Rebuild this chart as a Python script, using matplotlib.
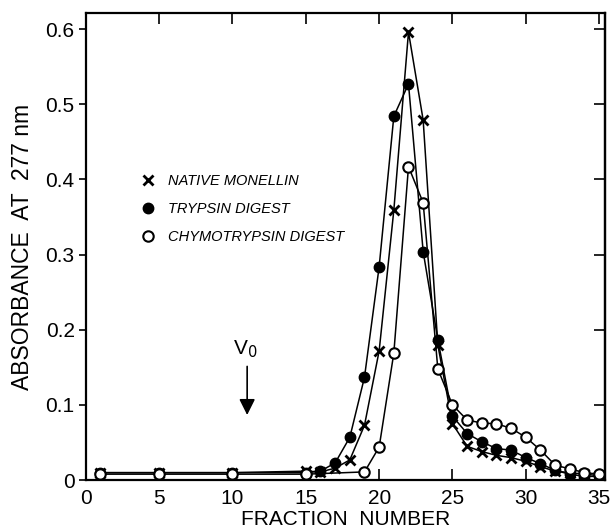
import matplotlib.pyplot as plt

# fraction numbers and absorbance at 277 nm
native_fraction = [1, 5, 10, 15, 16, 17, 18, 19, 20, 21, 22, 23, 24, 25,
                   26, 27, 28, 29, 30, 31, 32, 33, 34, 35]
native_abs = [0.010, 0.010, 0.010, 0.012, 0.011, 0.016, 0.027, 0.073, 0.172,
              0.359, 0.596, 0.479, 0.180, 0.075, 0.045, 0.038, 0.033, 0.030,
              0.025, 0.018, 0.012, 0.010, 0.008, 0.006]

trypsin_fraction = [1, 5, 10, 15, 16, 17, 18, 19, 20, 21, 22, 23, 24, 25,
                    26, 27, 28, 29, 30, 31, 32, 33, 34, 35]
trypsin_abs = [0.010, 0.010, 0.010, 0.010, 0.012, 0.023, 0.057, 0.137, 0.284,
               0.484, 0.527, 0.304, 0.187, 0.085, 0.062, 0.051, 0.042, 0.040,
               0.030, 0.022, 0.013, 0.008, 0.005, 0.005]

chymo_fraction = [1, 5, 10, 15, 19, 20, 21, 22, 23, 24, 25, 26, 27, 28,
                  29, 30, 31, 32, 33, 34, 35]
chymo_abs = [0.008, 0.008, 0.008, 0.008, 0.011, 0.044, 0.169, 0.417, 0.369,
             0.148, 0.100, 0.080, 0.076, 0.075, 0.069, 0.057, 0.040, 0.020,
             0.015, 0.010, 0.008]

x_ticks = [0, 5, 10, 15, 20, 25, 30, 35]
y_ticks = [0, 0.1, 0.2, 0.3, 0.4, 0.5, 0.6]
y_ticklabels = ['0', '0.1', '0.2', '0.3', '0.4', '0.5', '0.6']
v0_fraction = 11

plt.rcParams['font.family'] = ['Liberation Sans', 'DejaVu Sans']

fig = plt.figure(figsize=(6.13, 5.30), dpi=100)
ax = fig.add_axes([0.140, 0.094, 0.847, 0.881])

# curves
ax.plot(native_fraction, native_abs, '-', color='black', lw=1.1)
ax.plot(trypsin_fraction, trypsin_abs, '-', color='black', lw=1.1)
ax.plot(chymo_fraction, chymo_abs, '-', color='black', lw=1.1)

# symbols
ax.plot(native_fraction, native_abs, 'x', color='black', ms=7.5, mew=2,
        label='NATIVE MONELLIN')
ax.plot(trypsin_fraction, trypsin_abs, 'o', color='black', ms=7.5,
        label='TRYPSIN DIGEST')
ax.plot(chymo_fraction, chymo_abs, 'o', mfc='white', mec='black', mew=1.5,
        ms=7.5, label='CHYMOTRYPSIN DIGEST')

ax.legend(loc='upper left', bbox_to_anchor=(0.08, 0.683), frameon=False,
          handlelength=1.0, handletextpad=0.9, labelspacing=0.95,
          prop={'style': 'italic', 'size': 10.5})

# V0 marker
ax.annotate('', xy=(v0_fraction, 0.083), xytext=(v0_fraction, 0.155),
            arrowprops=dict(arrowstyle='-|>', color='black', lw=1.2,
                            mutation_scale=24))
ax.text(v0_fraction - 0.1, 0.160, r'V$_0$', ha='center', va='bottom',
        fontsize=15)

ax.set_xlim(0, 35.4)
ax.set_ylim(0, 0.621)
ax.set_xticks(x_ticks)
ax.set_yticks(y_ticks)
ax.set_yticklabels(y_ticklabels)

ax.tick_params(axis='y', direction='out', length=5, width=1.2, labelsize=15,
               pad=3)
ax.tick_params(axis='x', direction='in', length=8, width=1.2, labelsize=15,
               pad=6, top=True)

# right-hand ticks point inwards
right = ax.secondary_yaxis('right')
right.set_yticks(y_ticks)
right.tick_params(direction='in', length=8, width=1.2, labelright=False)

for spine in ax.spines.values():
    spine.set_linewidth(1.6)
right.spines['right'].set_linewidth(1.6)

ax.set_xlabel('FRACTION  NUMBER', fontsize=15, labelpad=2)
ax.set_ylabel('ABSORBANCE  AT  277 nm', fontsize=16.5, labelpad=8)

fig.savefig('out.png', dpi=100)
